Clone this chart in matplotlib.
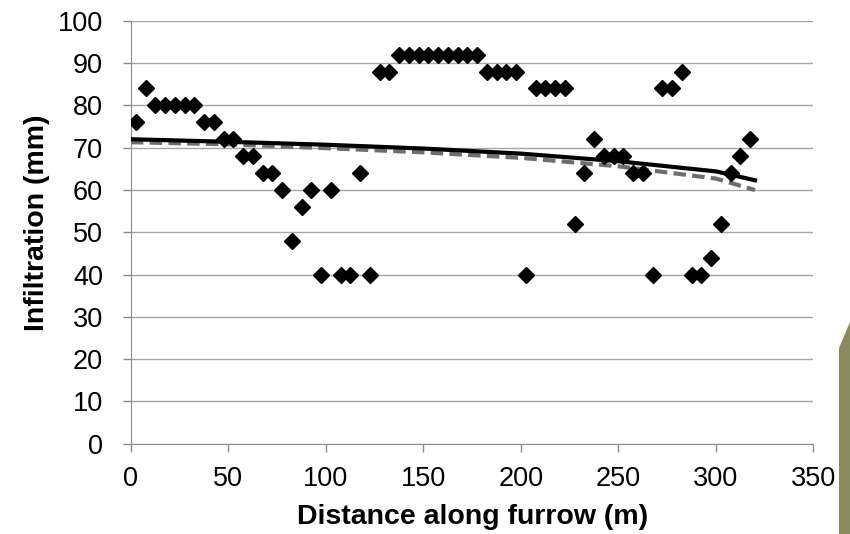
import matplotlib.pyplot as plt
from matplotlib.patches import Polygon

# Measured infiltration along the furrow
distance = [2.5, 7.5, 12.5, 17.5, 22.5, 27.5, 32.5, 37.5, 42.5, 47.5,
            52.5, 57.5, 62.5, 67.5, 72.5, 77.5, 82.5, 87.5, 92.5, 97.5,
            102.5, 107.5, 112.5, 117.5, 122.5, 127.5, 132.5, 137.5, 142.5, 147.5,
            152.5, 157.5, 162.5, 167.5, 172.5, 177.5, 182.5, 187.5, 192.5, 197.5,
            202.5, 207.5, 212.5, 217.5, 222.5, 227.5, 232.5, 237.5, 242.5, 247.5,
            252.5, 257.5, 262.5, 267.5, 272.5, 277.5, 282.5, 287.5, 292.5, 297.5,
            302.5, 307.5, 312.5, 317.5]
infiltration = [76, 84, 80, 80, 80, 80, 80, 76, 76, 72,
                72, 68, 68, 64, 64, 60, 48, 56, 60, 40,
                60, 40, 40, 64, 40, 88, 88, 92, 92, 92,
                92, 92, 92, 92, 92, 92, 88, 88, 88, 88,
                40, 84, 84, 84, 84, 52, 64, 72, 68, 68,
                68, 64, 64, 40, 84, 84, 88, 40, 40, 44,
                52, 64, 68, 72]

# Simulated curves
sim_x = [0, 50, 100, 150, 200, 250, 300, 320]
sim_solid = [72.0, 71.4, 70.7, 69.8, 68.6, 66.8, 64.4, 62.3]
sim_dashed = [71.3, 70.8, 69.9, 68.9, 67.6, 65.6, 62.7, 60.0]

plt.rcParams['font.family'] = ['Liberation Sans', 'DejaVu Sans']

fig = plt.figure(figsize=(8.5, 5.34), dpi=100)
ax = fig.add_axes([0.154, 0.169, 0.803, 0.792])

ax.plot(sim_x, sim_dashed, color='#6e6e6e', lw=3, ls=(0, (3, 1.5)), zorder=3)
ax.plot(sim_x, sim_solid, color='black', lw=3, zorder=4)
ax.plot(distance, infiltration, 'D', color='black', markersize=8.6, ls='none', zorder=5)

ax.set_xlim(0, 350)
ax.set_ylim(0, 100)
ax.set_xticks(range(0, 351, 50))
ax.set_yticks(range(0, 101, 10))
ax.grid(axis='y', color='#a6a6a6', lw=1)
ax.set_axisbelow(True)

for s in ['top', 'right']:
    ax.spines[s].set_visible(False)
for s in ['left', 'bottom']:
    ax.spines[s].set_color('#8c8c8c')
ax.tick_params(length=6, width=1, color='#8c8c8c', labelsize=19.5)
ax.tick_params(axis='y', pad=14)
ax.tick_params(axis='x', pad=10)

ax.set_xlabel('Distance along furrow (m)', fontsize=20.5, fontweight='bold')
ax.set_ylabel('Infiltration (mm)', fontsize=20.5, fontweight='bold')
ax.xaxis.set_label_coords(0.5, -0.143)
ax.yaxis.set_label_coords(-0.119, 0.522)

# slide background piece on the right edge
fig.patches.append(Polygon([(839 / 850, 0), (1, 0), (1, 1 - 322 / 534), (839 / 850, 1 - 348 / 534)],
                           closed=True, transform=fig.transFigure, facecolor='#8a8a5e',
                           edgecolor='none'))

fig.savefig('out.png', dpi=100)
